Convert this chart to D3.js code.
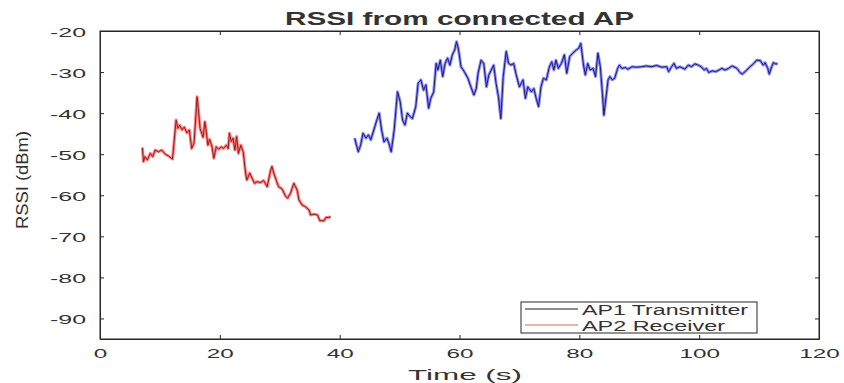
<!DOCTYPE html>
<html>
<head>
<meta charset="utf-8">
<script src="https://cdn.jsdelivr.net/npm/d3@7"></script>
<style>
  body { margin: 0; background: #fff; }
  text { font-family: "Liberation Sans", Arial, sans-serif; fill: #333; }
</style>
</head>
<body>
<div id="chart"></div>
<script>
// AP1 (transmitter) readings
var ap1Time = [42.5, 43.1, 43.5, 43.9, 44.4, 44.8, 45.2, 45.7, 46.2, 46.6, 47.0, 47.4, 47.9, 48.2, 48.6, 49.1, 49.65, 50.1, 50.5, 50.9,
  51.3, 51.8, 52.15, 52.7, 53.1, 53.55, 54.0, 54.4, 54.85, 55.2, 55.7, 56.1, 56.4, 56.8, 57.2, 57.6, 58.0, 58.4, 58.8, 59.2,
  59.5, 59.8, 60.25, 60.8, 61.4, 61.9, 62.4, 62.8, 63.1, 63.6, 64.05, 64.5, 64.9, 65.3, 65.7, 66.1, 66.5, 66.9, 67.3, 67.8,
  68.2, 68.6, 69.05, 69.4, 70.0, 70.6, 71.0, 71.4, 72.0, 72.4, 72.8, 73.2, 73.6, 74.0, 74.5, 75.0, 75.4, 75.75, 76.1, 76.5,
  77.0, 77.5, 77.9, 78.4, 78.9, 79.5, 79.9, 80.25, 80.7, 81.0, 81.4, 81.8, 82.3, 82.7, 83.1, 83.5, 83.85, 84.1, 84.4, 84.8,
  85.1, 85.5, 85.9, 86.4, 86.7, 87.1, 87.7, 88.1, 88.8, 89.5, 90.4, 91.2, 92.05, 92.9, 93.7, 94.6, 94.9, 95.4, 95.8, 96.2,
  96.8, 97.6, 98.2, 98.7, 99.3, 99.85, 100.4, 100.85, 101.2, 101.6, 102.2, 102.75, 103.3, 103.8, 104.3, 104.9, 105.5, 106.3, 106.8, 107.2,
  107.8, 108.5, 109.05, 109.6, 110.2, 110.7, 111.0, 111.45, 111.7, 112.1, 112.4, 112.7, 113.1];
var ap1Rssi = [-46.1, -49.4, -47.8, -44.9, -46.1, -45.3, -46.5, -44.1, -41.7, -40.0, -44.1, -47.0, -46.1, -47.3, -49.4, -44.1, -34.8, -37.2, -41.7, -42.9,
  -40.0, -40.9, -41.3, -38.4, -32.7, -31.9, -34.4, -33.1, -38.8, -36.4, -34.8, -27.9, -29.5, -27.1, -31.1, -27.9, -26.6, -28.3, -25.8, -24.6,
  -22.6, -24.2, -28.7, -29.9, -31.5, -33.6, -35.6, -34.0, -30.3, -27.1, -27.9, -33.6, -30.7, -29.5, -28.3, -32.7, -36.0, -41.3, -31.1, -25.0,
  -27.9, -28.3, -27.9, -30.3, -33.6, -31.9, -36.4, -33.6, -34.8, -34.0, -36.4, -38.4, -33.6, -31.5, -31.9, -28.7, -27.5, -29.5, -27.1, -29.1,
  -27.9, -25.8, -30.3, -26.2, -25.4, -24.6, -24.2, -23.0, -28.3, -30.7, -27.9, -29.5, -29.1, -31.1, -25.4, -28.7, -35.2, -40.5, -36.8, -31.9,
  -31.1, -31.9, -31.5, -29.1, -28.3, -29.1, -28.9, -29.3, -28.7, -28.8, -28.7, -28.5, -28.7, -28.4, -28.8, -28.7, -29.9, -28.7, -27.9, -29.1,
  -28.7, -29.3, -28.3, -28.7, -28.0, -28.3, -28.8, -29.5, -29.1, -30.1, -29.7, -29.9, -29.5, -29.1, -29.5, -29.1, -28.5, -29.1, -30.1, -30.5,
  -29.7, -28.7, -28.0, -27.1, -27.2, -28.3, -27.7, -29.1, -30.5, -28.7, -27.7, -28.0, -28.0];

// AP2 (receiver) readings
var ap2Time = [7.08, 7.25, 7.5, 7.9, 8.4, 8.8, 9.2, 9.75, 10.3, 10.9, 11.4, 12.1, 12.7, 13.0, 13.3, 13.7, 14.06, 14.5, 14.9, 15.3,
  15.7, 16.2, 16.4, 16.7, 17.2, 17.5, 17.7, 18.0, 18.3, 18.7, 19.0, 19.4, 19.8, 20.25, 20.6, 21.1, 21.4, 21.6, 21.9, 22.2,
  22.5, 22.8, 23.1, 23.5, 23.9, 24.3, 24.5, 25.0, 25.4, 25.8, 26.2, 26.8, 27.3, 27.9, 28.5, 28.7, 29.0, 29.5, 29.8, 30.4,
  31.0, 31.3, 31.8, 32.35, 32.9, 33.2, 33.75, 34.3, 34.9, 35.15, 35.7, 36.3, 36.7, 37.4, 37.7, 38.2, 38.5];
var ap2Rssi = [-48.4, -51.8, -50.6, -51.4, -49.8, -50.6, -49.0, -49.4, -49.0, -50.0, -50.4, -51.2, -41.7, -43.7, -42.9, -44.1, -43.4, -44.8, -44.1, -48.6,
  -47.3, -36.0, -38.8, -43.7, -45.9, -42.1, -44.1, -47.8, -46.4, -48.2, -51.0, -48.2, -48.8, -48.2, -48.6, -47.8, -48.6, -44.9, -46.9, -46.1,
  -49.0, -45.7, -49.8, -47.8, -49.4, -54.6, -56.3, -54.6, -55.9, -57.1, -56.7, -56.9, -56.4, -57.9, -53.8, -53.0, -54.6, -56.7, -57.9, -58.5,
  -60.3, -60.7, -59.5, -57.1, -58.7, -61.1, -62.4, -62.8, -63.6, -64.8, -64.6, -64.8, -66.2, -66.2, -65.4, -65.4, -65.2];

var xTicks = [0, 20, 40, 60, 80, 100, 120];
var yTicks = [-90, -80, -70, -60, -50, -40, -30, -20];
var seriesNames = ["AP1 Transmitter", "AP2 Receiver"];

var margin = {top: 31, right: 25, bottom: 44, left: 100},
width = 844 - margin.left - margin.right,
height = 383 - margin.top - margin.bottom;

var root = d3.select("#chart")
.append("svg")
.attr("width", 844)
.attr("height", 383);

var svg = root.append("g")
.attr("transform", "translate(" + margin.left + "," + margin.top + ")");

var x = d3.scaleLinear().domain([0, 120]).range([0, width]);
var y = d3.scaleLinear().domain([-95, -20]).range([height, 0]);

// the source picture is stretched sideways, so text gets a fixed width
function labelWidth(s) {
  s = String(s);
  var w = 0;
  for (var i = 0; i < s.length; i++) w += (s[i] == "-" || s[i] == "\u2212") ? 9 : 13.5;
  return w;
}

var axisColor = "#262626";

var xAxis = svg.append("g")
.attr("transform", "translate(0," + height + ")")
.call(d3.axisBottom(x).tickValues(xTicks).tickSizeInner(-4).tickSizeOuter(0).tickPadding(9).tickFormat(d3.format("d")));

var yAxis = svg.append("g")
.call(d3.axisLeft(y).tickValues(yTicks).tickSizeInner(-4).tickSizeOuter(0).tickPadding(14).tickFormat(function(d) { return String(d); }));

svg.append("g")
.call(d3.axisTop(x).tickValues(xTicks).tickSizeInner(-4).tickSizeOuter(0).tickFormat(""));
svg.append("g")
.attr("transform", "translate(" + width + ",0)")
.call(d3.axisRight(y).tickValues(yTicks).tickSizeInner(-4).tickSizeOuter(0).tickFormat(""));

svg.selectAll(".domain").attr("stroke", axisColor);
svg.selectAll(".tick line").attr("stroke", axisColor);
svg.selectAll(".tick text")
.attr("font-size", 13.5)
.attr("fill", "#333")
.attr("lengthAdjust", "spacingAndGlyphs")
.attr("textLength", function() { return labelWidth(this.textContent); });
yAxis.selectAll(".tick text").attr("dy", "0.4em");

svg.append("rect")
.attr("width", width)
.attr("height", height)
.attr("fill", "none")
.attr("stroke", axisColor)
.attr("stroke-width", 1);

var line = d3.line()
.x(function(d) { return x(d[0]); })
.y(function(d) { return y(d[1]); });

var ap1 = d3.zip(ap1Time, ap1Rssi);
var ap2 = d3.zip(ap2Time, ap2Rssi);

function drawSeries(data, glow, core) {
  svg.append("path")
  .datum(data)
  .attr("fill", "none")
  .attr("stroke", glow)
  .attr("stroke-opacity", 0.6)
  .attr("stroke-width", 3)
  .attr("stroke-linejoin", "round")
  .attr("d", line);
  svg.append("path")
  .datum(data)
  .attr("fill", "none")
  .attr("stroke", core)
  .attr("stroke-width", 1)
  .attr("stroke-linejoin", "round")
  .attr("d", line);
}
drawSeries(ap2, "#ff2828", "#9a1c1c");
drawSeries(ap1, "#3c3cff", "#1e1e70");

// title and axis labels
root.append("text")
.attr("x", margin.left + width / 2)
.attr("y", 25)
.attr("text-anchor", "middle")
.attr("font-size", 18)
.attr("font-weight", "bold")
.attr("fill", "#000")
.attr("lengthAdjust", "spacingAndGlyphs")
.attr("textLength", 349)
.text("RSSI from connected AP");

root.append("text")
.attr("x", 465)
.attr("y", 380)
.attr("text-anchor", "middle")
.attr("font-size", 15)
.attr("lengthAdjust", "spacingAndGlyphs")
.attr("textLength", 114)
.text("Time (s)");

root.append("text")
.attr("transform", "translate(28,180) rotate(-90)")
.attr("text-anchor", "middle")
.attr("font-size", 16)
.attr("lengthAdjust", "spacingAndGlyphs")
.attr("textLength", 98)
.text("RSSI (dBm)");

// legend
var legend = root.append("g").attr("transform", "translate(521,302)");
legend.append("rect")
.attr("width", 236)
.attr("height", 31)
.attr("fill", "#fff")
.attr("stroke", axisColor)
.attr("stroke-width", 1);

var legendColors = ["#1a1a1a", "#c86a6a"];
var legendWidths = [166, 143];
seriesNames.forEach(function(name, i) {
  var ly = 7 + i * 16;
  legend.append("line")
  .attr("x1", 4).attr("x2", 57)
  .attr("y1", ly).attr("y2", ly)
  .attr("stroke", legendColors[i])
  .attr("stroke-width", 1);
  legend.append("text")
  .attr("x", 61)
  .attr("y", ly + 6)
  .attr("font-size", 14)
  .attr("lengthAdjust", "spacingAndGlyphs")
  .attr("textLength", legendWidths[i])
  .text(name);
});
</script>
</body>
</html>
